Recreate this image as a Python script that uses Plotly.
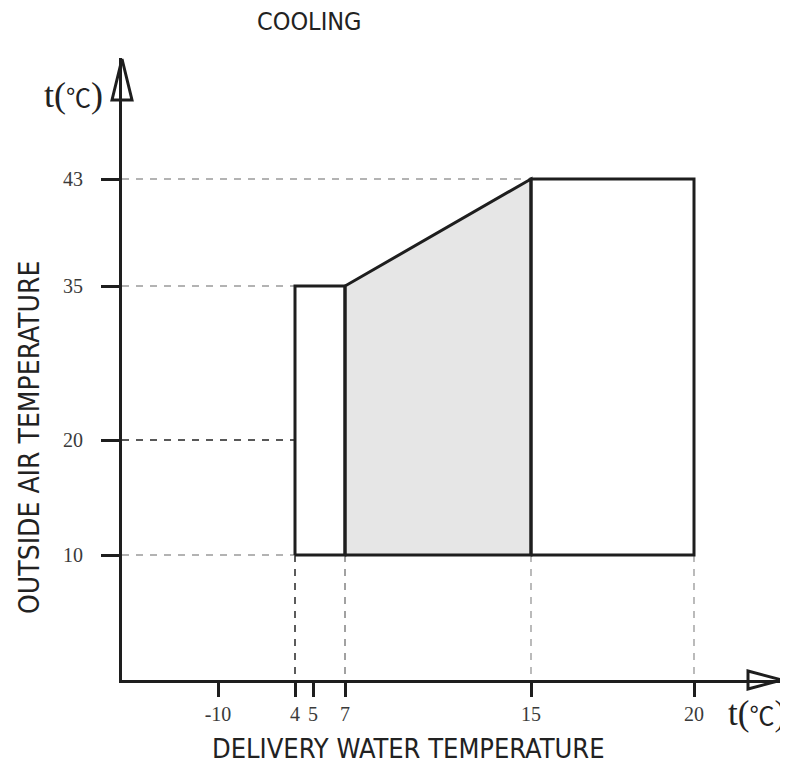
import numpy as np
import plotly.graph_objects as go

# ---------------- data ----------------
x_tick_values = [-10, 4, 5, 7, 15, 20]
x_tick_labels = ["-10", "4", "5", "7", "15", "20"]
y_tick_values = [10, 20, 35, 43]
y_tick_labels = ["10", "20", "35", "43"]

# operating envelope (delivery water temp, outside air temp)
zone_low_x = [4, 4, 7, 7, 4]          # left white zone
zone_low_y = [10, 35, 35, 10, 10]
zone_mid_x = [7, 7, 15, 15, 7]        # shaded zone
zone_mid_y = [10, 35, 43, 10, 10]
zone_high_x = [15, 15, 20, 20, 15]    # right white zone
zone_high_y = [10, 43, 43, 10, 10]

# guide lines: (value, end value on other axis, colour)
h_guides = [(43, 15, "#9a9a9a"), (35, 4, "#9a9a9a"), (20, 4, "#222222"), (10, 4, "#9a9a9a")]
v_guides = [(4, 10, "#333333"), (7, 10, "#8a8a8a"), (15, 10, "#aaaaaa"), (20, 10, "#aaaaaa")]

# ---------------- schematic (non-uniform) diagram scale ----------------
PAGE_OFF = 8                      # default body margin of the page
FIG_W, FIG_H = 788 - PAGE_OFF, 765 - PAGE_OFF
W, H = 661, 622
L, T = 122 - PAGE_OFF, 58 - PAGE_OFF
R = FIG_W - L - W
B = FIG_H - T - H
x_scale_breaks = [-10, 4, 5, 7, 15, 20]
x_scale_units = [96, 173, 191, 223, 409, 572]
y_scale_breaks = [10, 20, 35, 43]
y_scale_units = [125, 240, 394, 501]


def sx(v):
    return np.atleast_1d(np.interp(v, x_scale_breaks, x_scale_units)).tolist()


def sy(v):
    return np.atleast_1d(np.interp(v, y_scale_breaks, y_scale_units)).tolist()


def px(xp):
    return (xp - 122) / W


def py(yp):
    return (680 - yp) / H


fig = go.Figure()

dash = "7px,7px"
for val, end, col in h_guides:
    fig.add_trace(go.Scatter(x=[0, sx(end)[0]], y=sy([val, val]), mode="lines",
                             line=dict(color=col, width=1.6, dash=dash),
                             hoverinfo="skip", showlegend=False))
for val, end, col in v_guides:
    fig.add_trace(go.Scatter(x=sx([val, val]), y=[sy(end)[0], 0], mode="lines",
                             line=dict(color=col, width=1.6, dash=dash),
                             hoverinfo="skip", showlegend=False))

fig.add_trace(go.Scatter(x=sx(zone_mid_x), y=sy(zone_mid_y), mode="lines", fill="toself",
                         fillcolor="#e6e6e6", line=dict(color="#1e1e1e", width=3),
                         hoverinfo="skip", showlegend=False))
for zx, zy in [(zone_low_x, zone_low_y), (zone_high_x, zone_high_y)]:
    fig.add_trace(go.Scatter(x=sx(zx), y=sy(zy), mode="lines",
                             line=dict(color="#1e1e1e", width=3),
                             hoverinfo="skip", showlegend=False))

# arrow heads
shapes = [
    dict(type="path", xref="paper", yref="paper",
         path=f"M {px(112)} {py(100)} L {px(122)} {py(59)} L {px(132)} {py(100)} Z",
         line=dict(color="#1e1e1e", width=3), fillcolor="rgba(0,0,0,0)", layer="above"),
    dict(type="path", xref="paper", yref="paper",
         path=f"M {px(748)} {py(671)} L {px(782)} {py(680)} L {px(748)} {py(689)} Z",
         line=dict(color="#1e1e1e", width=3), fillcolor="rgba(0,0,0,0)", layer="above"),
]

narrow = "Liberation Sans Narrow, Arial Narrow, DejaVu Sans Condensed, Liberation Sans, sans-serif"
serif = "Liberation Serif, Times New Roman, DejaVu Serif, serif"
unit_text = "t(<span style='font-family:Noto Sans CJK SC;font-size:25px'>℃</span>)"


def ann(text, x, y, size, family, angle=0):
    return dict(text=text, x=px(x), y=py(y), xref="paper", yref="paper", showarrow=False,
                xanchor="center", yanchor="middle", textangle=angle,
                font=dict(family=family, size=size, color="#222"))


annotations = [
    ann("COOLING", 309, 22, 25, narrow),
    ann(unit_text, 73, 95, 36, serif),
    ann(unit_text, 757, 714, 35, serif),
    ann("DELIVERY WATER TEMPERATURE", 408, 748, 27, narrow),
    ann("OUTSIDE AIR TEMPERATURE", 29, 438, 28, narrow, -90),
]

fig.update_layout(
    width=FIG_W, height=FIG_H,
    margin=dict(l=L, r=R, t=T, b=B, pad=0, autoexpand=False),
    paper_bgcolor="white", plot_bgcolor="white",
    shapes=shapes, annotations=annotations,
    xaxis=dict(range=[0, W], showgrid=False, zeroline=False, showline=True,
               linecolor="#1e1e1e", linewidth=3, automargin=False,
               tickmode="array", tickvals=sx(x_tick_values), ticktext=x_tick_labels,
               ticks="outside", ticklen=14, tickwidth=2.5, tickcolor="#1e1e1e",
               ticklabelstandoff=0,
               tickfont=dict(family=serif, size=20, color="#3a3a3a")),
    yaxis=dict(range=[0, H], showgrid=False, zeroline=False, showline=True,
               linecolor="#1e1e1e", linewidth=3, automargin=False,
               tickmode="array", tickvals=sy(y_tick_values), ticktext=y_tick_labels,
               ticks="outside", ticklen=18, tickwidth=2.5, tickcolor="#1e1e1e",
               ticklabelstandoff=14,
               tickfont=dict(family=serif, size=20, color="#3a3a3a")),
)

fig.write_html("out.html")
